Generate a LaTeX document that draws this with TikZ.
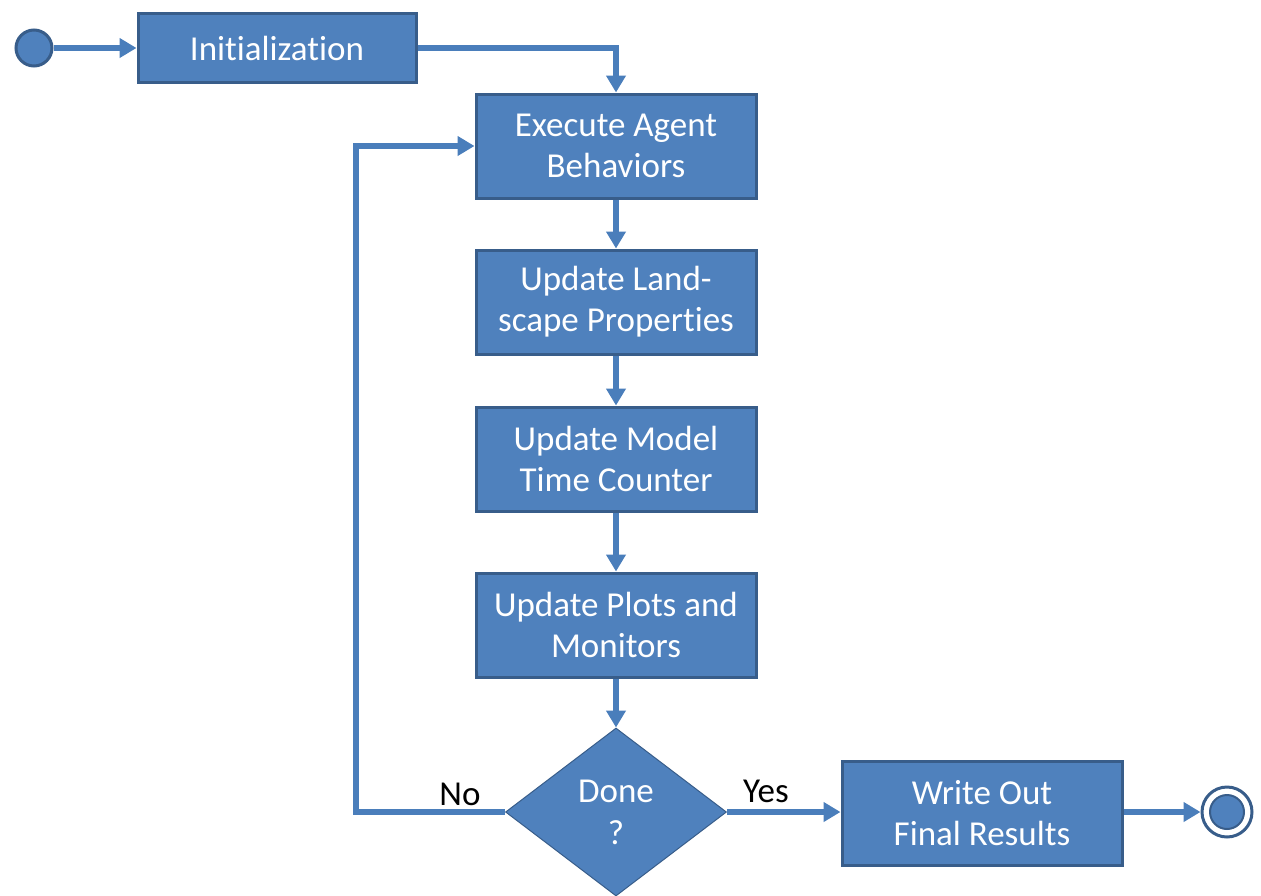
\documentclass[tikz,border=0pt]{standalone}
\usepackage{fontspec}
\setmainfont{Carlito}[Ligatures=CommonOff]
\usetikzlibrary{arrows.meta,shapes.geometric}
\definecolor{boxfill}{HTML}{4F81BD}
\definecolor{boxedge}{HTML}{385D8A}
\definecolor{flow}{HTML}{4A7EBB}
\tikzset{
  stepbox/.style={rectangle, fill=boxfill, draw=boxedge, line width=3pt,
    minimum width=280pt, minimum height=104pt, inner sep=0pt,
    text=white, align=center, font=\fontsize{35}{41}\selectfont},
  decision/.style={diamond, fill=boxfill, draw=boxedge, line width=1pt,
    minimum width=221pt, minimum height=168pt, inner sep=0pt,
    text=white, align=center, font=\fontsize{35}{42}\selectfont},
  flowline/.style={draw=flow, line width=5.5pt,
    -{Triangle[length=17pt,width=19pt]}},
  tag/.style={font=\fontsize{35}{40}\selectfont, text=black}
}
\begin{document}
\begin{tikzpicture}[x=1pt,y=-1pt]
\useasboundingbox (0,0) rectangle (1261,895);

% start and final states
\node[circle, fill=boxfill, draw=boxedge, line width=3pt, minimum size=36pt, inner sep=0pt] (start) at (34,48) {};
\node[circle, draw=boxedge, line width=3pt, minimum size=50pt, inner sep=0pt] (finish) at (1227,812) {};
\node[circle, fill=boxfill, draw=boxedge, line width=2pt, minimum size=34pt, inner sep=0pt] (finishdot) at (1227,812) {};

% activity boxes
\node[stepbox, minimum width=278pt, minimum height=69pt] (init) at (277,48) {Initialization};
\node[stepbox] (exec) at (616,146) {Execute Agent\\Behaviors};
\node[stepbox] (land) at (616,302) {Update Land-\\scape Properties};
\node[stepbox] (time) at (616,459) {Update Model\\Time Counter};
\node[stepbox] (plots) at (616,625) {Update Plots and\\Monitors};
\node[decision] (done) at (616,812) {Done\\?};
\node[stepbox] (write) at (982,813) {Write Out\\Final Results};

% connectors
\coordinate (loopx) at (356,0);
\draw[flowline] (start) -- (init);
\draw[flowline] (init.east) -| (exec.north);
\draw[flowline] (exec) -- (land);
\draw[flowline] (land) -- (time);
\draw[flowline] (time) -- (plots);
\draw[flowline] (plots) -- (done);
\draw[flowline] (done.west) -| (loopx |- exec.west) -- (exec.west);
\draw[flowline] (done.east) -- (write.west |- done.east);
\draw[flowline] (write.east |- finish.west) -- (finish.west);

% branch labels
\node[tag] (nolabel) at (460,794) {No};
\node[tag] (yeslabel) at (766,791) {Yes};
\end{tikzpicture}
\end{document}
